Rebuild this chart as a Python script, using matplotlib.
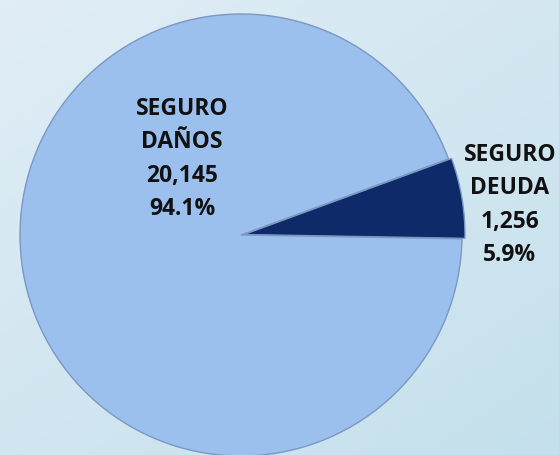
import numpy as np
import matplotlib.pyplot as plt

# data
categorias = ["SEGURO\nDEUDA", "SEGURO\nDAÑOS"]
valores = [1256, 20145]
colores = ["#0E2A68", "#9BC0EE"]

total = sum(valores)
pcts = [v / total * 100 for v in valores]

fig = plt.figure(figsize=(5.59, 4.56), dpi=100)

# background gradient
bg = fig.add_axes([0, 0, 1, 1])
gy, gx = np.mgrid[0:1:200j, 0:1:200j]
t = np.clip(0.55 * gy + 0.45 * gx, 0, 1)
c0 = np.array([0.88, 0.93, 0.965])
c1 = np.array([0.77, 0.88, 0.925])
img = c0[None, None, :] * (1 - t[..., None]) + c1[None, None, :] * t[..., None]
bg.imshow(img, extent=[0, 1, 0, 1], aspect="auto", origin="upper")
bg.axis("off")

ax = fig.add_axes([0, 0, 1, 1])

wedges, _ = ax.pie(valores, colors=colores, startangle=-1, counterclock=True,
                   center=(241, 220), radius=221, explode=[3, 0],
                   wedgeprops=dict(edgecolor="#7a98c2", linewidth=1.0),
                   frame=True)
ax.set_xlim(0, 559)
ax.set_ylim(0, 456)
ax.set_aspect("auto")
ax.axis("off")

# labels
posiciones = [(510, 251), (182, 297)]
for cat, v, p, (x, y) in zip(categorias, valores, pcts, posiciones):
    ax.text(x, y, f"{cat}\n{v:,}\n{p:.1f}%", ha="center", va="center",
            fontsize=16.5, fontweight="bold", family="Open Sans", color="#111111",
            linespacing=1.52)

fig.savefig("out.png", dpi=100)
